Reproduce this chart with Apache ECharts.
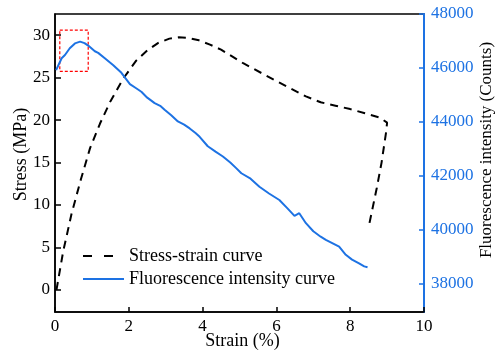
<!DOCTYPE html>
<html><head><meta charset="utf-8">
<script src="https://cdn.jsdelivr.net/npm/echarts@6/dist/echarts.min.js"></script>
<style>html,body{margin:0;padding:0;background:#fff}#c{width:496px;height:351px}</style>
</head><body><div id="c"></div>
<script>
var stressStrain = [
 [0.04,0],[0.22,4.5],[0.45,9],[0.7,13],[0.95,16.7],[1.22,19.6],[1.5,22.2],[1.85,24.9],[2.2,27.0],
 [2.5,28.2],[2.8,29.1],[3.1,29.6],[3.35,29.75],[3.6,29.7],[3.9,29.4],[4.2,28.9],
 [4.5,28.3],[4.8,27.5],[5.1,26.7],[5.4,26.0],[5.7,25.3],[6.0,24.6],[6.4,23.7],[6.8,22.8],[7.2,22.1],
 [7.6,21.7],[8.0,21.3],[8.4,20.8],[8.8,20.3],[9.0,19.7],[8.97,18.5],[8.85,15],[8.72,12],[8.6,9.5],[8.5,7.4]
];
var fluorescence = [
 [0.03,45920],[0.18,46360],[0.27,46480],[0.4,46730],[0.54,46910],[0.68,46975],[0.8,46920],[0.9,46830],
 [1.08,46620],[1.17,46560],[1.35,46360],[1.58,46100],[1.8,45820],[2.03,45400],[2.2,45250],[2.34,45120],
 [2.5,44900],[2.7,44700],[2.85,44600],[2.97,44450],[3.15,44250],[3.33,44020],[3.5,43900],[3.65,43760],
 [3.8,43600],[3.92,43450],[4.14,43100],[4.35,42900],[4.55,42720],[4.75,42500],[4.91,42290],[5.05,42100],
 [5.3,41900],[5.54,41600],[5.8,41350],[6.08,41110],[6.3,40800],[6.49,40520],[6.62,40620],[6.8,40250],
 [7.0,39950],[7.2,39750],[7.34,39630],[7.5,39520],[7.7,39380],[7.88,39080],[8.05,38900],[8.24,38760],
 [8.38,38650],[8.47,38620]
];
var stressTicks = [0,5,10,15,20,25,30];
var countTicks = [38000,40000,42000,44000,46000,48000];
var highlightBox = [[0.13,30.6],[0.9,25.75]];
var seriesNames = ['Stress-strain curve','Fluorescence intensity curve'];

var BLUE = '#1d72e3';
var FONT = 'Liberation Serif';
function plain(v){ return String(v); }
var chart = echarts.init(document.getElementById('c'));
chart.setOption({
  animation:false,
  textStyle:{fontFamily:FONT},
  grid:{left:55,right:72,top:14,bottom:39,outerBoundsMode:'none',containLabel:false,show:true,borderColor:'#000',borderWidth:1.5,backgroundColor:'transparent'},
  legend:{
    orient:'vertical',left:82,top:247,padding:0,itemWidth:41,itemHeight:14,itemGap:5,
    itemStyle:{opacity:0},
    textStyle:{fontFamily:FONT,fontSize:18,color:'#000'},
    data:[{name:seriesNames[0],lineStyle:{type:[9,12],width:2,color:'#000'}},{name:seriesNames[1]}]
  },
  xAxis:{type:'value',min:0,max:10,interval:2,
    name:'Strain (%)',nameLocation:'middle',nameGap:20,nameMoveOverlap:false,
    nameTextStyle:{fontFamily:FONT,fontSize:18,color:'#000',padding:[0,0,0,6]},
    axisLine:{onZero:false,lineStyle:{color:'#000',width:1.5}},
    axisTick:{inside:true,length:5,lineStyle:{color:'#000',width:1.5}},
    axisLabel:{fontFamily:FONT,fontSize:17,color:'#000',margin:6,formatter:plain},
    splitLine:{show:false}},
  yAxis:[
    {type:'value',min:-2.6,max:32.5,position:'left',
     name:'Stress (MPa)',nameLocation:'middle',nameGap:25,nameRotate:90,nameMoveOverlap:false,
     nameTextStyle:{fontFamily:FONT,fontSize:18,color:'#000',padding:[0,0,0,17]},
     axisLine:{show:true,onZero:false,lineStyle:{color:'#000',width:1.5}},
     axisTick:{inside:true,length:6,customValues:stressTicks,lineStyle:{color:'#000',width:1.5}},
     axisLabel:{fontFamily:FONT,fontSize:17,color:'#000',margin:5,customValues:stressTicks,formatter:plain},
     splitLine:{show:false}},
    {type:'value',min:36960,max:48000,position:'right',
     name:'Fluorescence intensity (Counts)',nameLocation:'middle',nameGap:54,nameRotate:90,nameMoveOverlap:false,
     nameTextStyle:{fontFamily:FONT,fontSize:17,color:'#000',padding:[0,0,0,26]},
     axisLine:{show:true,onZero:false,lineStyle:{color:BLUE,width:2}},
     axisTick:{inside:true,length:5,customValues:countTicks,lineStyle:{color:BLUE,width:1.5}},
     axisLabel:{fontFamily:FONT,fontSize:17,color:BLUE,margin:7,customValues:countTicks,formatter:plain},
     splitLine:{show:false}}
  ],
  series:[
    {name:seriesNames[0],type:'line',yAxisIndex:0,data:stressStrain,symbol:'none',smooth:false,
     lineStyle:{color:'#000',width:2,type:[8,6]},itemStyle:{color:'#000'},
     markArea:{silent:true,itemStyle:{color:'rgba(0,0,0,0)',borderColor:'#ff0000',borderWidth:1.2,borderType:[3,2]},
       data:[[{coord:highlightBox[0]},{coord:highlightBox[1]}]]}},
    {name:seriesNames[1],type:'line',yAxisIndex:1,data:fluorescence,symbol:'none',
     lineStyle:{color:BLUE,width:2},itemStyle:{color:BLUE}}
  ]
});
</script></body></html>
